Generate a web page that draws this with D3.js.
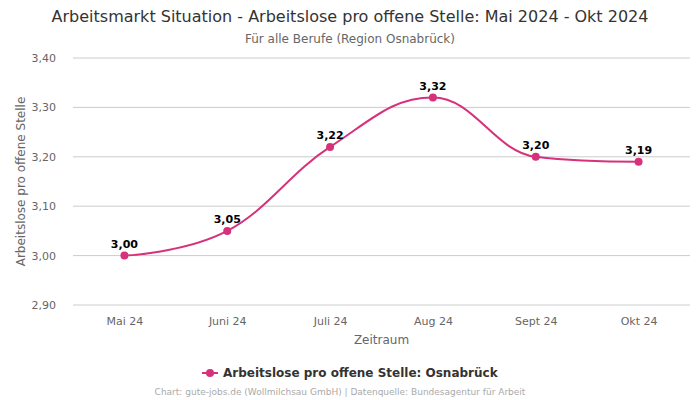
<!DOCTYPE html>
<html lang="de">
<head>
<meta charset="utf-8">
<title>Arbeitslose pro offene Stelle</title>
<script src="https://d3js.org/d3.v7.min.js"></script>
<style>
  body { margin: 0; background: #fff; }
  svg { font-family: "DejaVu Sans", sans-serif; }
</style>
</head>
<body>
<script>
var months = ["Mai 24", "Juni 24", "Juli 24", "Aug 24", "Sept 24", "Okt 24"];
var values = [3.00, 3.05, 3.22, 3.32, 3.20, 3.19];
var yTicks = [2.90, 3.00, 3.10, 3.20, 3.30, 3.40];

var width = 700, height = 400;
var margin = {top: 58, right: 10, bottom: 95, left: 73};
var color = "#d6317a";
var fmt = function(v) { return d3.format(".2f")(v).replace(".", ","); };

var svg = d3.select("body").append("svg")
    .attr("width", width)
    .attr("height", height);

var x = d3.scalePoint()
    .domain(months)
    .range([margin.left, width - margin.right])
    .padding(0.5);

var y = d3.scaleLinear()
    .domain([2.90, 3.40])
    .range([height - margin.bottom, margin.top]);

// grid
svg.append("g")
    .selectAll("line")
    .data(yTicks)
    .enter().append("line")
    .attr("x1", margin.left)
    .attr("x2", width - margin.right)
    .attr("y1", function(d) { return y(d); })
    .attr("y2", function(d) { return y(d); })
    .attr("stroke", "#cccccc")
    .attr("stroke-width", 1);

// y axis labels
var yAxis = svg.append("g")
    .attr("transform", "translate(" + (margin.left - 14) + ",0)")
    .call(d3.axisLeft(y).tickValues(yTicks).tickFormat(fmt).tickSize(0));
yAxis.select(".domain").remove();
yAxis.selectAll("text").attr("fill", "#666").style("font-size", "11px")
    .style("font-family", "DejaVu Sans, sans-serif");

// x axis labels
var xAxis = svg.append("g")
    .attr("transform", "translate(0," + (height - margin.bottom + 9) + ")")
    .call(d3.axisBottom(x).tickSize(0));
xAxis.select(".domain").remove();
xAxis.selectAll("text").attr("fill", "#666").style("font-size", "11px")
    .style("font-family", "DejaVu Sans, sans-serif");

// titles
svg.append("text")
    .attr("x", 350).attr("y", 22)
    .attr("text-anchor", "middle")
    .attr("fill", "#333")
    .style("font-size", "16px")
    .text("Arbeitsmarkt Situation - Arbeitslose pro offene Stelle: Mai 2024 - Okt 2024");

svg.append("text")
    .attr("x", 350).attr("y", 43)
    .attr("text-anchor", "middle")
    .attr("fill", "#666")
    .style("font-size", "12px")
    .text("Für alle Berufe (Region Osnabrück)");

svg.append("text")
    .attr("x", (margin.left + width - margin.right) / 2).attr("y", 344)
    .attr("text-anchor", "middle")
    .attr("fill", "#666")
    .style("font-size", "12px")
    .text("Zeitraum");

svg.append("text")
    .attr("transform", "translate(25," + ((margin.top + height - margin.bottom) / 2) + ") rotate(-90)")
    .attr("text-anchor", "middle")
    .attr("fill", "#666")
    .style("font-size", "12px")
    .text("Arbeitslose pro offene Stelle");

// line (spline with flattened extremes)
var pts = months.map(function(m, i) { return {m: m, v: values[i], px: x(m), py: y(values[i])}; });

function splinePath(p) {
    var s = 1.5, den = s + 1, d = "M" + p[0].px + "," + p[0].py;
    p.forEach(function(pt, i) {
        if (i > 0 && i < p.length - 1) {
            var a = p[i - 1], b = p[i + 1];
            var lx = (s * pt.px + a.px) / den, ly = (s * pt.py + a.py) / den;
            var rx = (s * pt.px + b.px) / den, ry = (s * pt.py + b.py) / den;
            var c = ((ry - ly) * (rx - pt.px)) / (rx - lx) + pt.py - ry;
            ly += c; ry += c;
            if (ly > a.py && ly > pt.py) { ly = Math.max(a.py, pt.py); ry = 2 * pt.py - ly; }
            else if (ly < a.py && ly < pt.py) { ly = Math.min(a.py, pt.py); ry = 2 * pt.py - ly; }
            if (ry > b.py && ry > pt.py) { ry = Math.max(b.py, pt.py); ly = 2 * pt.py - ry; }
            else if (ry < b.py && ry < pt.py) { ry = Math.min(b.py, pt.py); ly = 2 * pt.py - ry; }
            pt.lx = lx; pt.ly = ly; pt.rx = rx; pt.ry = ry;
        }
    });
    for (var i = 1; i < p.length; i++) {
        var prev = p[i - 1], cur = p[i];
        d += "C" + (prev.rx !== undefined ? prev.rx : prev.px) + "," + (prev.ry !== undefined ? prev.ry : prev.py) +
             " " + (cur.lx !== undefined ? cur.lx : cur.px) + "," + (cur.ly !== undefined ? cur.ly : cur.py) +
             " " + cur.px + "," + cur.py;
    }
    return d;
}

svg.append("path")
    .attr("d", splinePath(pts))
    .attr("fill", "none")
    .attr("stroke", color)
    .attr("stroke-width", 2);

svg.selectAll(".dot")
    .data(pts)
    .enter().append("circle")
    .attr("class", "dot")
    .attr("cx", function(d) { return d.px; })
    .attr("cy", function(d) { return d.py; })
    .attr("r", 4)
    .attr("fill", color);

svg.selectAll(".lbl")
    .data(pts)
    .enter().append("text")
    .attr("class", "lbl")
    .attr("x", function(d) { return d.px; })
    .attr("y", function(d) { return d.py - 8; })
    .attr("text-anchor", "middle")
    .attr("fill", "#000")
    .style("font-size", "11px")
    .style("font-weight", "bold")
    .text(function(d) { return fmt(d.v); });

// legend
var lg = svg.append("g").attr("transform", "translate(0,373)");
lg.append("line")
    .attr("x1", 202).attr("x2", 218)
    .attr("y1", 0).attr("y2", 0)
    .attr("stroke", color).attr("stroke-width", 2);
lg.append("circle")
    .attr("cx", 210).attr("cy", 0).attr("r", 4)
    .attr("fill", color);
lg.append("text")
    .attr("x", 223).attr("y", 4)
    .attr("fill", "#333")
    .style("font-size", "12px")
    .style("font-weight", "bold")
    .text("Arbeitslose pro offene Stelle: Osnabrück");

svg.append("text")
    .attr("x", 340).attr("y", 395)
    .attr("text-anchor", "middle")
    .attr("fill", "#aaa")
    .style("font-size", "9px")
    .text("Chart: gute-jobs.de (Wollmilchsau GmbH) | Datenquelle: Bundesagentur für Arbeit");
</script>
</body>
</html>
